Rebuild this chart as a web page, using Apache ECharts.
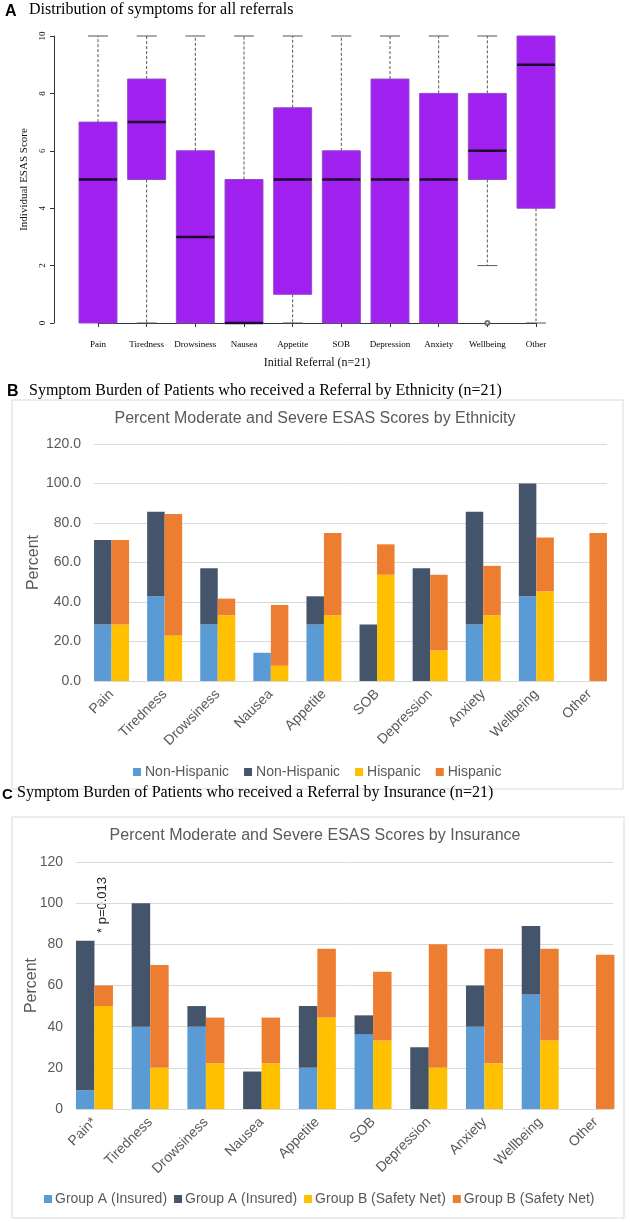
<!DOCTYPE html>
<html><head><meta charset="utf-8">
<script src="https://cdn.jsdelivr.net/npm/echarts@6/dist/echarts.min.js"></script>
<style>html,body{margin:0;padding:0;background:#fff}#c{width:630px;height:1222px}</style>
</head><body><div id="c"></div>
<script>
// ---------- Panel A: box plot ----------
const categories = ['Pain','Tiredness','Drowsiness','Nausea','Appetite','SOB','Depression','Anxiety','Wellbeing','Other'];
const boxMin    = [0, 0,   0, 0, 0,   0, 0,   0, 2, 0];
const boxQ1     = [0, 5,   0, 0, 1,   0, 0,   0, 5, 4];
const boxMedian = [5, 7,   3, 0, 5,   5, 5,   5, 6, 9];
const boxQ3     = [7, 8.5, 6, 5, 7.5, 6, 8.5, 8, 8, 10];
const boxMax    = [10,10, 10,10,10,  10,10,  10,10,10];
const outlierCategory = ['Wellbeing'];
const outlierValue = [0];

// ---------- Panel B: by ethnicity ----------
const nonHispLight = [28.6, 42.9, 28.6, 14.3, 28.6, 0,    0,    28.6, 42.9, 0];
const nonHispDark  = [42.8, 42.8, 28.5, 0,    14.3, 28.6, 57.1, 57.1, 57.1, 0];
const hispYellow   = [28.6, 23.1, 33.3, 7.7,  33.3, 53.8, 15.4, 33.3, 45.5, 0];
const hispOrange   = [42.8, 61.5, 8.4,  30.8, 41.7, 15.4, 38.4, 25.0, 27.2, 75.0];

// ---------- Panel C: by insurance ----------
const categoriesC = ['Pain*','Tiredness','Drowsiness','Nausea','Appetite','SOB','Depression','Anxiety','Wellbeing','Other'];
const groupALight  = [9.1,  40, 40, 0,    20,   36.4, 0,  40,   55.6, 0];
const groupADark   = [72.7, 60, 10, 18.2, 30,   9.1,  30, 20,   33.3, 0];
const groupBYellow = [50,   20, 22.2, 22.2, 44.4, 33.3, 20, 22.2, 33.3, 0];
const groupBOrange = [10,   50, 22.2, 22.2, 33.4, 33.4, 60, 55.6, 44.5, 75];

const C_LIGHT = '#5B9BD5', C_DARK = '#44546A', C_YEL = '#FFC000', C_ORA = '#ED7D31';
const GREY = '#595959';
const SERIF = '"Liberation Serif", "Times New Roman", serif';
const SANS = '"Liberation Sans", Arial, sans-serif';
const ZW = '\u200b';

const boxData = categories.map((c, i) => [i, boxMin[i], boxQ1[i], boxMedian[i], boxQ3[i], boxMax[i]]);
const outlierData = outlierCategory.map((c, k) => [categories.indexOf(c), outlierValue[k]]);

function renderBox(params, api) {
  const i = api.value(0);
  const mn = api.value(1), q1 = api.value(2), md = api.value(3), q3 = api.value(4), mx = api.value(5);
  const bw = api.size([1, 0])[0];
  const hw = bw * 0.39, cap = bw * 0.205;
  const x = api.coord([i, 0])[0];
  const y = v => api.coord([i, v])[1];
  const ws = { stroke: '#555', lineWidth: 1, lineDash: [3, 2], fill: null };
  const cs = { stroke: '#555', lineWidth: 1, fill: null };
  const ch = [];
  if (mx > q3) {
    ch.push({ type: 'line', shape: { x1: x, y1: y(q3), x2: x, y2: y(mx) }, style: ws });
    ch.push({ type: 'line', shape: { x1: x - cap, y1: y(mx), x2: x + cap, y2: y(mx) }, style: cs });
  }
  if (mn < q1) {
    ch.push({ type: 'line', shape: { x1: x, y1: y(q1), x2: x, y2: y(mn) }, style: ws });
    ch.push({ type: 'line', shape: { x1: x - cap, y1: y(mn), x2: x + cap, y2: y(mn) }, style: cs });
  }
  ch.push({ type: 'rect', shape: { x: x - hw, y: y(q3), width: 2 * hw, height: y(q1) - y(q3) },
            style: { fill: '#A020F0', stroke: '#8e4cc6', lineWidth: 1 } });
  ch.push({ type: 'line', shape: { x1: x - hw, y1: y(md), x2: x + hw, y2: y(md) },
            style: { stroke: '#1c0a2a', lineWidth: 2.5 } });
  return { type: 'group', children: ch };
}

const chart = echarts.init(document.getElementById('c'), null, { renderer: 'canvas' });

const barLabelX = (data, gi) => ({
  type: 'category', gridIndex: gi, data: data,
  axisLine: { show: false }, axisTick: { show: false },
  axisLabel: { rotate: 45, fontSize: 14, color: GREY, fontFamily: SANS, margin: 11, interval: 0 }
});

const option = {
  backgroundColor: '#fff',
  animation: false,
  title: [
    { text: 'A', left: 5, top: 4, padding: 0, textStyle: { fontFamily: SANS, fontWeight: 'bold', fontSize: 16, color: '#000' } },
    { text: 'Distribution of symptoms for all referrals', left: 29, top: 2, padding: 0, textStyle: { fontFamily: SERIF, fontWeight: 'normal', fontSize: 16, color: '#000' } },
    { text: 'B', left: 7, top: 384, padding: 0, textStyle: { fontFamily: SANS, fontWeight: 'bold', fontSize: 16, color: '#000' } },
    { text: 'Symptom Burden of Patients who received a Referral by Ethnicity (n=21)', left: 29, top: 383, padding: 0, textStyle: { fontFamily: SERIF, fontWeight: 'normal', fontSize: 16, color: '#000' } },
    { text: 'C', left: 2, top: 787, padding: 0, textStyle: { fontFamily: SANS, fontWeight: 'bold', fontSize: 15, color: '#000' } },
    { text: 'Symptom Burden of Patients who received a Referral by Insurance (n=21)', left: 17, top: 785, padding: 0, textStyle: { fontFamily: SERIF, fontWeight: 'normal', fontSize: 16, color: '#000' } },
    { text: 'Percent Moderate and Severe ESAS Scores by Ethnicity', left: 'center', top: 411, padding: 0, textStyle: { fontFamily: SANS, fontWeight: 'normal', fontSize: 16, color: GREY } },
    { text: 'Percent Moderate and Severe ESAS Scores by Insurance', left: 'center', top: 828, padding: 0, textStyle: { fontFamily: SANS, fontWeight: 'normal', fontSize: 16, color: GREY } }
  ],
  graphic: [
    { type: 'rect', shape: { x: 12, y: 400, width: 611, height: 389 }, style: { fill: null, stroke: '#d9d9d9', lineWidth: 1 }, z: -1 },
    { type: 'rect', shape: { x: 12, y: 817, width: 612, height: 401 }, style: { fill: null, stroke: '#d9d9d9', lineWidth: 1 }, z: -1 },
    { type: 'text', x: 102, y: 905, rotation: Math.PI / 2,
      style: { text: '* p=0.013', fontFamily: SANS, fontSize: 13, fill: '#262626', textAlign: 'center', textVerticalAlign: 'middle' } }
  ],
  legend: [
    { data: ['Non-Hispanic', 'Non-Hispanic' + ZW, 'Hispanic', 'Hispanic' + ZW], left: 133, top: 765, padding: 0,
      icon: 'rect', itemWidth: 8, itemHeight: 8, itemGap: 15, selectedMode: false,
      textStyle: { fontFamily: SANS, fontSize: 14, color: GREY, padding: [0, 0, 0, -1] } },
    { data: ['Group A (Insured)', 'Group A (Insured)' + ZW, 'Group B (Safety Net)', 'Group B (Safety Net)' + ZW], left: 44, top: 1192, padding: 0,
      icon: 'rect', itemWidth: 8, itemHeight: 8, itemGap: 7, selectedMode: false,
      textStyle: { fontFamily: SANS, fontSize: 14, color: GREY, padding: [0, 0, 0, -2] } }
  ],
  grid: [
    { left: 98, width: 438, top: 36, height: 287 },
    { left: 94, width: 513, top: 444, height: 237 },
    { left: 85, width: 531, top: 444, height: 237 },
    { left: 76, width: 537, top: 862, height: 247 },
    { left: 66.6, width: 557.2, top: 862, height: 247 }
  ],
  xAxis: [
    { type: 'category', gridIndex: 0, data: categories, boundaryGap: false, offset: 12,
      axisLine: { lineStyle: { color: '#333', width: 1 } },
      axisTick: { length: 4, lineStyle: { color: '#333' } },
      axisLabel: { fontFamily: SERIF, fontSize: 9, color: '#000', margin: 5, interval: 0 },
      name: 'Initial Referral (n=21)', nameLocation: 'middle', nameGap: 22, nameMoveOverlap: false,
      nameTextStyle: { fontFamily: SERIF, fontSize: 12, color: '#111' } },
    { type: 'category', gridIndex: 1, data: categories, show: false },
    barLabelX(categories, 2),
    { type: 'category', gridIndex: 3, data: categoriesC, show: false },
    barLabelX(categoriesC, 4)
  ],
  yAxis: [
    { type: 'value', gridIndex: 0, min: 0, max: 10, interval: 2, offset: 44,
      axisLine: { show: true, lineStyle: { color: '#333', width: 1 } },
      axisTick: { show: true, length: 4, lineStyle: { color: '#333' } },
      splitLine: { show: false },
      axisLabel: { rotate: 90, fontFamily: SERIF, fontSize: 9, color: '#111', margin: 7 },
      name: 'Individual ESAS Score', nameLocation: 'middle', nameGap: 24, nameRotate: 90, nameMoveOverlap: false,
      nameTextStyle: { fontFamily: SERIF, fontSize: 11, color: '#111' } },
    { type: 'value', gridIndex: 1, min: 0, max: 120, interval: 20,
      axisLine: { show: false }, axisTick: { show: false },
      splitLine: { lineStyle: { color: '#d9d9d9', width: 1 } },
      axisLabel: { formatter: v => v.toFixed(1), fontFamily: SANS, fontSize: 14, color: GREY, margin: 13 },
      name: 'Percent', nameLocation: 'middle', nameGap: 52, nameRotate: 90, nameMoveOverlap: false,
      nameTextStyle: { fontFamily: SANS, fontSize: 16, color: GREY } },
    { type: 'value', gridIndex: 2, min: 0, max: 120, show: false, splitLine: { show: false } },
    { type: 'value', gridIndex: 3, min: 0, max: 120, interval: 20,
      axisLine: { show: false }, axisTick: { show: false },
      splitLine: { lineStyle: { color: '#d9d9d9', width: 1 } },
      axisLabel: { fontFamily: SANS, fontSize: 14, color: GREY, margin: 13 },
      name: 'Percent', nameLocation: 'middle', nameGap: 36, nameRotate: 90, nameMoveOverlap: false,
      nameTextStyle: { fontFamily: SANS, fontSize: 16, color: GREY } },
    { type: 'value', gridIndex: 4, min: 0, max: 120, show: false, splitLine: { show: false } }
  ],
  series: [
    { type: 'custom', xAxisIndex: 0, yAxisIndex: 0, data: boxData, renderItem: renderBox,
      encode: { x: 0, y: [1, 2, 3, 4, 5] } },
    { type: 'scatter', xAxisIndex: 0, yAxisIndex: 0, data: outlierData, symbol: 'emptyCircle', symbolSize: 4,
      itemStyle: { color: '#555', borderWidth: 0.8 } },
    { name: 'Non-Hispanic', type: 'bar', xAxisIndex: 2, yAxisIndex: 2, stack: 'nh', data: nonHispLight, barWidth: 17.5, barGap: '0%', itemStyle: { color: C_LIGHT } },
    { name: 'Non-Hispanic' + ZW, type: 'bar', xAxisIndex: 2, yAxisIndex: 2, stack: 'nh', data: nonHispDark, barWidth: 17.5, barGap: '0%', itemStyle: { color: C_DARK } },
    { name: 'Hispanic', type: 'bar', xAxisIndex: 2, yAxisIndex: 2, stack: 'h', data: hispYellow, barWidth: 17.5, barGap: '0%', itemStyle: { color: C_YEL } },
    { name: 'Hispanic' + ZW, type: 'bar', xAxisIndex: 2, yAxisIndex: 2, stack: 'h', data: hispOrange, barWidth: 17.5, barGap: '0%', itemStyle: { color: C_ORA } },
    { name: 'Group A (Insured)', type: 'bar', xAxisIndex: 4, yAxisIndex: 4, stack: 'a', data: groupALight, barWidth: 18.5, barGap: '0%', itemStyle: { color: C_LIGHT } },
    { name: 'Group A (Insured)' + ZW, type: 'bar', xAxisIndex: 4, yAxisIndex: 4, stack: 'a', data: groupADark, barWidth: 18.5, barGap: '0%', itemStyle: { color: C_DARK } },
    { name: 'Group B (Safety Net)', type: 'bar', xAxisIndex: 4, yAxisIndex: 4, stack: 'b', data: groupBYellow, barWidth: 18.5, barGap: '0%', itemStyle: { color: C_YEL } },
    { name: 'Group B (Safety Net)' + ZW, type: 'bar', xAxisIndex: 4, yAxisIndex: 4, stack: 'b', data: groupBOrange, barWidth: 18.5, barGap: '0%', itemStyle: { color: C_ORA } }
  ]
};
chart.setOption(option);
</script>
</body></html>
